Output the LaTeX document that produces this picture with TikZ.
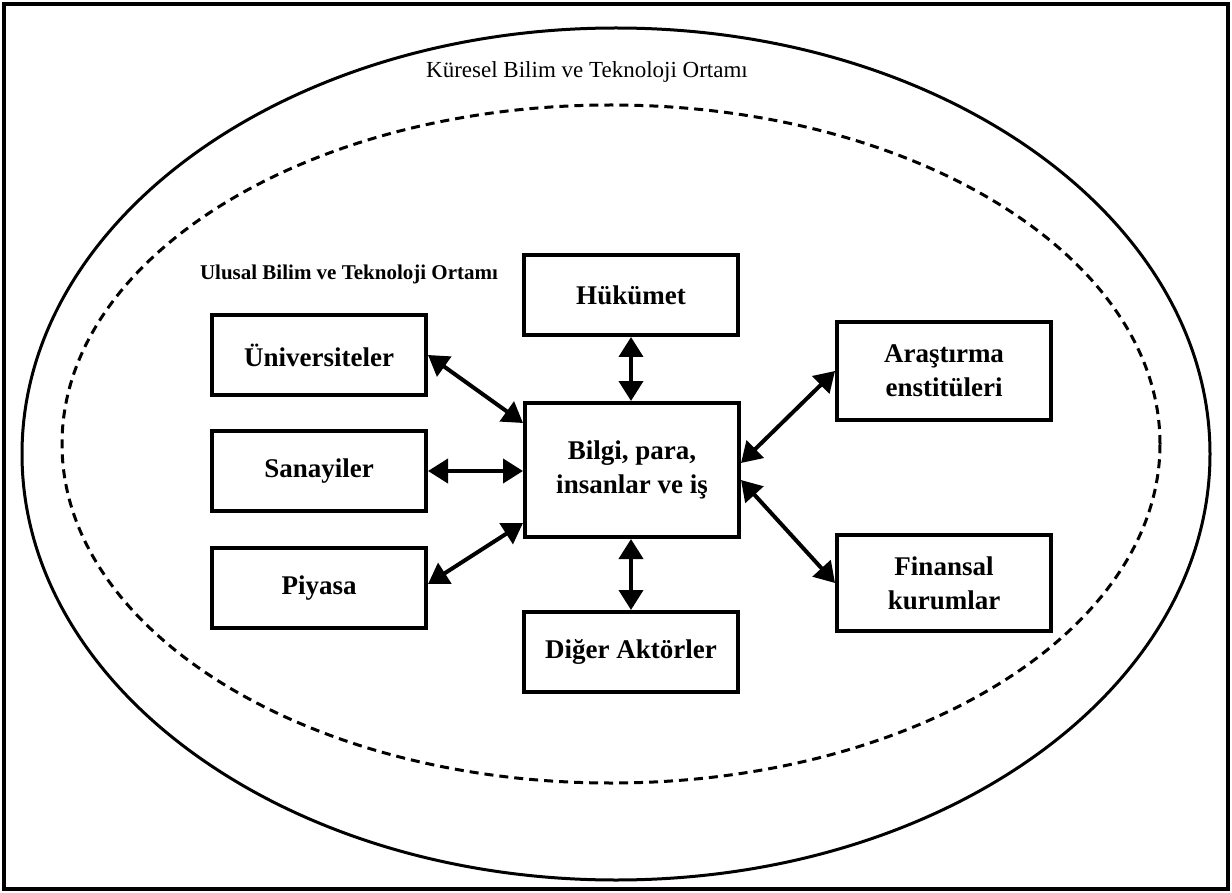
\documentclass[tikz,border=0pt]{standalone}
\usepackage{fontspec}
\setmainfont{Liberation Serif}
\usepackage{tikz}
\usetikzlibrary{calc,shapes,arrows.meta,positioning}
\tikzstyle{actor}=[draw,line width=2pt,minimum width=107pt,minimum height=38pt,align=center,font=\bfseries\fontsize{13.5}{17}\selectfont]
\tikzstyle{link}=[{Triangle[length=10pt,width=12pt]}-{Triangle[length=10pt,width=12pt]},line width=2pt]

\begin{document}
\begin{tikzpicture}[x=0.5pt,y=-0.5pt]
        \useasboundingbox (0,0) rectangle (1232,893);
        \draw[line width=2pt] (4,4) rectangle (1228,889);
        % global and national environment
        \draw[line width=1.5pt] (616,454) ellipse [x radius=297pt, y radius=213pt];
        \draw[line width=1.5pt,dash pattern=on 4.5pt off 3pt] (611,444) ellipse [x radius=274.5pt, y radius=169.5pt];
        \node (kuresel) at (587,72) {\fontsize{11.5}{14}\selectfont K\"uresel Bilim ve Teknoloji Ortam\i};
        \node (ulusal) at (349,274) {\bfseries\fontsize{10.5}{13}\selectfont Ulusal Bilim ve Teknoloji Ortam\i};
        % actors
        \node[actor,minimum height=67pt] (bilgi) at (632,470) {Bilgi, para,\\insanlar ve i\c{s}};
        \node[actor,minimum height=40pt] (hukumet) at (631,295) {H\"uk\"umet};
        \node[actor,minimum height=40pt] (diger) at (631,652) {Di\u{g}er Akt\"orler};
        \node[actor,minimum height=40pt] (univ) at (319,355) {\"Universiteler};
        \node[actor,minimum height=40pt] (sanayi) at (319,471) {Sanayiler};
        \node[actor,minimum height=40pt] (piyasa) at (319,588) {Piyasa};
        \node[actor,minimum height=49pt] (arastirma) at (944,371) {Ara\c{s}t\i rma\\enstit\"uleri};
        \node[actor,minimum height=48pt] (finans) at (944,583) {Finansal\\kurumlar};
        % links
        \draw[link] (univ.east) -- ([yshift=23.5pt]bilgi.west);
        \draw[link] (sanayi.east) -- (sanayi.east -| bilgi.west);
        \draw[link] ([yshift=2pt]piyasa.east) -- ([yshift=-26.5pt]bilgi.west);
        \draw[link] (hukumet.south) -- (hukumet.south |- bilgi.north);
        \draw[link] (diger.north |- bilgi.south) -- (diger.north);
        \draw[link] (arastirma.west) -- ([yshift=3.5pt]bilgi.east);
        \draw[link] (finans.west) -- ([yshift=-5pt]bilgi.east);
      \end{tikzpicture}
\end{document}
